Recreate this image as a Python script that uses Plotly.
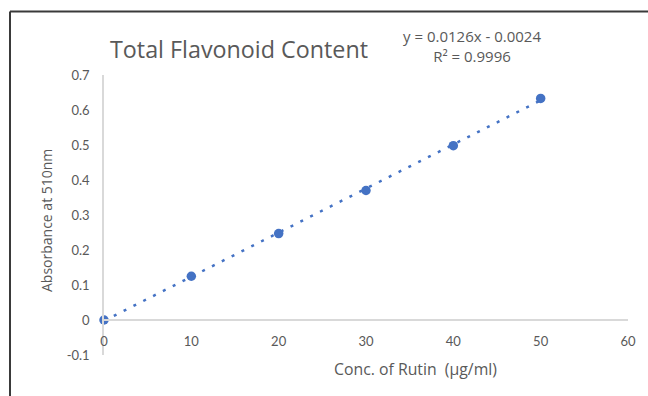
import plotly.graph_objects as go

# Rutin calibration standards
conc_ugml = [0, 10, 20, 30, 40, 50]
absorbance = [0.0, 0.125, 0.247, 0.370, 0.498, 0.633]

# Linear trendline reported on the chart
slope = 0.0126
intercept = -0.0024
r_squared = 0.9996

x_ticks = [0, 10, 20, 30, 40, 50, 60]
x_tick_text = ["0", "10", "20", "30", "40", "50", "60"]
y_ticks = [-0.1, 0.0, 0.1, 0.2, 0.3, 0.4, 0.5, 0.6, 0.7]
y_tick_text = ["-0.1", "0", "0.1", "0.2", "0.3", "0.4", "0.5", "0.6", "0.7"]

BLUE = "#4472C4"
TEXT = "#595959"
AXIS = "#D9D9D9"
FONT = "Lato, 'Open Sans', sans-serif"
TFONT = "'Open Sans', Lato, sans-serif"

W, H = 648, 396
L, R, T, B = 104, 20, 75, 41
pw, ph = W - L - R, H - T - B


def px_x(px):
    return (px - L) / pw


def px_y(py):
    return (H - B - py) / ph


trend_x = [conc_ugml[0], conc_ugml[-1]]
trend_y = [slope * x + intercept for x in trend_x]

fig = go.Figure()
fig.add_trace(go.Scatter(
    x=trend_x, y=trend_y, mode="lines",
    line=dict(color=BLUE, width=2.5, dash="3px,8px"),
    hoverinfo="skip", cliponaxis=False,
))
fig.add_trace(go.Scatter(
    x=conc_ugml, y=absorbance, mode="markers",
    marker=dict(color=BLUE, size=9.5),
    cliponaxis=False,
))

y_min, y_max = -0.1, 0.7
fig.update_layout(
    width=W, height=H,
    margin=dict(l=L, r=R, t=T, b=B, pad=0),
    paper_bgcolor="white", plot_bgcolor="white",
    showlegend=False,
    font=dict(family=FONT, color=TEXT, size=13),
    xaxis=dict(
        range=[0, 60], tickvals=x_ticks, ticktext=x_tick_text,
        showgrid=False, zeroline=False, showline=True,
        linecolor=AXIS, linewidth=1.5, ticks="",
        anchor="free", position=(0 - y_min) / (y_max - y_min),
        ticklabelstandoff=10,
        tickfont=dict(size=13, color=TEXT, family=FONT),
    ),
    yaxis=dict(
        range=[y_min, y_max], tickvals=y_ticks, ticktext=y_tick_text,
        showgrid=False, zeroline=False, showline=True,
        linecolor=AXIS, linewidth=1.5, ticks="",
        ticklabelstandoff=10,
        tickfont=dict(size=13, color=TEXT, family=FONT),
    ),
    shapes=[
        dict(type="line", xref="paper", yref="paper",
             x0=px_x(10), x1=px_x(W + 5), y0=px_y(11.5), y1=px_y(11.5),
             line=dict(color="#3A3A3A", width=2)),
        dict(type="line", xref="paper", yref="paper",
             x0=px_x(10), x1=px_x(10), y0=px_y(11.5), y1=px_y(H + 5),
             line=dict(color="#3A3A3A", width=2)),
    ],
    annotations=[
        dict(text="Total Flavonoid Content", xref="paper", yref="paper",
             x=px_x(239), y=px_y(49), showarrow=False,
             xanchor="center", yanchor="middle",
             font=dict(size=23.3, color=TEXT, family=TFONT)),
        dict(text=f"y = {slope}x - {abs(intercept)}<br>R² = {r_squared}",
             xref="paper", yref="paper", x=px_x(472), y=px_y(46),
             showarrow=False, xanchor="center", yanchor="middle",
             align="center",
             font=dict(size=15, color=TEXT, family=TFONT)),
        dict(text="Absorbance at 510nm", xref="paper", yref="paper",
             x=px_x(47), y=px_y(221), showarrow=False, textangle=-90,
             xanchor="center", yanchor="middle",
             font=dict(size=14, color=TEXT, family=TFONT)),
        dict(text="Conc. of Rutin  (µg/ml)", xref="paper", yref="paper",
             x=px_x(415), y=px_y(369), showarrow=False,
             xanchor="center", yanchor="middle",
             font=dict(size=15.8, color=TEXT, family=TFONT)),
    ],
)

fig.write_html("out.html")
